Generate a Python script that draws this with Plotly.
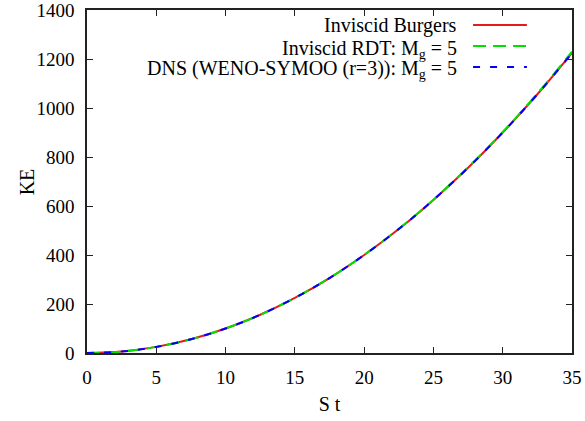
import plotly.graph_objects as go

# Kinetic energy growth vs. non-dimensional time S t
st = [0, 2.5, 5, 7.5, 10, 12.5, 15, 17.5, 20, 22.5, 25, 27.5, 30, 32.5, 35]
ke_burgers = [0, 6, 25, 56, 100, 156, 225, 306, 400, 506, 625, 756, 900, 1056, 1225]
ke_rdt = [0, 6, 25, 56, 100, 156, 225, 306, 400, 507, 626, 758, 902, 1059, 1230]
ke_dns = [0, 6, 25, 56, 100, 156, 225, 306, 400, 506, 625, 756, 900, 1056, 1224]

labels = ["Inviscid Burgers",
          "Inviscid RDT: M<sub>g</sub> = 5",
          "DNS (WENO-SYMOO (r=3)): M<sub>g</sub> = 5"]
colors = ["#e41a1c", "#00e000", "#0000ff"]
dashes = ["solid", "13px,7px", "7px,10px"]
series = [ke_burgers, ke_rdt, ke_dns]

FONT = "Liberation Serif"

fig = go.Figure()
for y, c, d in zip(series, colors, dashes):
    fig.add_trace(go.Scatter(x=st, y=y, mode="lines", line=dict(color=c, width=2, dash=d, shape="spline"),
                             showlegend=False))

# key drawn to the right of the labels, gnuplot style
rows_y = [0.956, 0.895, 0.834]
for lab, c, d, ry in zip(labels, colors, dashes, rows_y):
    shift = -3 if "<sub>" in lab else 0
    fig.add_annotation(x=0.767, y=ry, xref="paper", yref="paper", text=lab, showarrow=False,
                       xanchor="right", yanchor="middle", yshift=shift,
                       font=dict(family=FONT, size=20, color="black"))
    fig.add_shape(type="line", xref="paper", yref="paper", x0=0.796, x1=0.907, y0=ry, y1=ry,
                  line=dict(color=c, width=2, dash=d))

# y-axis title placed close to the tick labels
fig.add_annotation(x=-0.124, y=0.5, xref="paper", yref="paper", text="KE", showarrow=False,
                   textangle=-90, xanchor="center", yanchor="middle",
                   font=dict(family=FONT, size=20, color="black"))

fig.update_xaxes(range=[0, 35], dtick=5, showline=True, linecolor="#222222", linewidth=1.5, mirror="allticks",
                 ticks="inside", ticklen=6, tickcolor="#222222", showgrid=False, zeroline=False,
                 automargin=False, ticklabelstandoff=6, ticklabeloverflow="allow",
                 tickfont=dict(family=FONT, size=19, color="black"),
                 title=dict(text="S t", font=dict(family=FONT, size=20, color="black"), standoff=10))
fig.update_yaxes(range=[0, 1400], dtick=200, showline=True, linecolor="#222222", linewidth=1.5, mirror="allticks",
                 ticks="inside", ticklen=6, tickcolor="#222222", showgrid=False, zeroline=False,
                 automargin=False, ticklabelstandoff=7, ticklabeloverflow="allow",
                 tickfont=dict(family=FONT, size=19, color="black"))

fig.update_layout(width=585, height=421, margin=dict(l=87, r=13, t=10, b=68),
                  plot_bgcolor="white", paper_bgcolor="white")

fig.write_html("out.html")
